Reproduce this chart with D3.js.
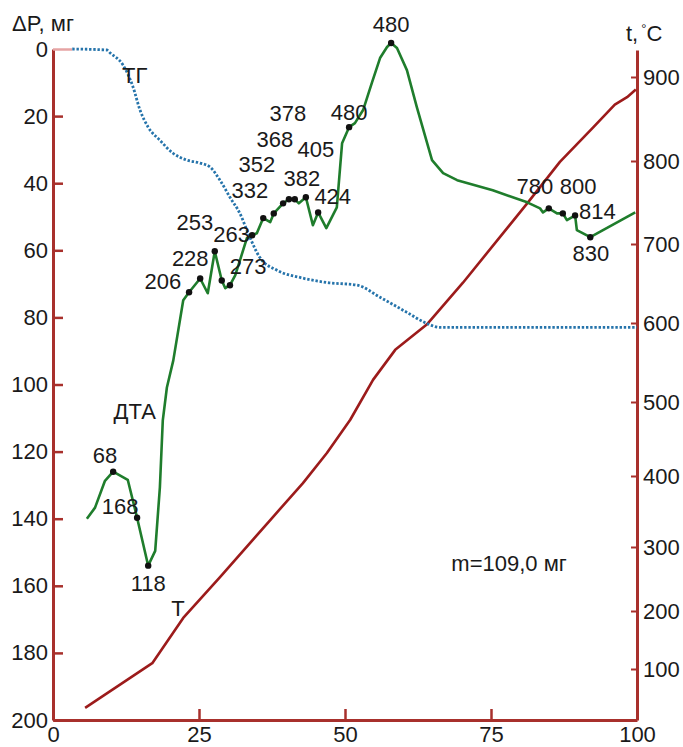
<!DOCTYPE html>
<html><head><meta charset="utf-8">
<script src="https://cdn.jsdelivr.net/npm/d3@7"></script>
<style>
body{margin:0;background:#fff}
svg{display:block}
text{font-family:"Liberation Sans",Arial,sans-serif;fill:#1a1a1a}
</style>
</head><body>
<svg id="c" width="683" height="747"></svg>
<script>
// ---------- DATA ----------
const xTicks = [0, 25, 50, 75, 100];
const pTicks = [0, 20, 40, 60, 80, 100, 120, 140, 160, 180, 200];
const tTicks = [100, 200, 300, 400, 500, 600, 700, 800, 900];

// TG (mass loss, мг)
const tgX = [3.3, 9.2, 9.8, 12.0, 13.7, 14.9, 16.3, 18.3, 20.5, 22.9, 25.2, 26.9, 28.6, 30.3, 32.0, 33.7, 35.4, 38.4, 42.3, 46.9, 52.1, 56.0, 60.6, 64.0, 66.3, 100];
const tgP = [0, 0.3, 1.2, 4.8, 11.3, 18.2, 23.3, 27.2, 31.0, 33.1, 34.0, 35.2, 39.1, 44.2, 49.0, 56.1, 62.1, 66.0, 68.1, 69.6, 70.4, 74.0, 78.5, 81.8, 83.0, 83.0];

// DTA curve
const dtaX = [5.8, 7.2, 8.9, 10.3, 12.8, 14.4, 16.3, 17.5, 18.3, 18.8, 19.5, 20.6, 22.3, 23.3, 25.2, 26.5, 27.7, 28.9, 29.5, 30.3, 31.2, 33.2, 34.1, 34.9, 36.0, 37.2, 37.8, 39.4, 40.4, 41.4, 42.1, 43.3, 44.5, 45.4, 46.8, 48.6, 49.5, 50.7, 51.7, 53.1, 54.6, 56.0, 57.2, 57.9, 58.9, 60.6, 62.3, 64.9, 66.8, 69.2, 75.3, 81.2, 83.4, 83.9, 84.9, 86.3, 87.3, 88.0, 88.9, 89.4, 89.7, 92.0, 99.7];
const dtaP = [140.0, 136.7, 128.7, 126.0, 128.4, 139.7, 154.0, 149.6, 130.7, 110.7, 100.9, 92.8, 74.9, 72.5, 68.4, 72.8, 60.3, 69.0, 71.3, 70.4, 67.5, 56.4, 55.5, 54.9, 50.4, 51.6, 49.0, 46.0, 44.8, 44.8, 46.0, 44.2, 52.5, 48.7, 53.4, 47.2, 28.1, 23.3, 22.1, 18.2, 10.1, 2.7, -0.6, -1.8, -0.3, 6.3, 17.3, 33.1, 37.0, 39.1, 42.1, 45.7, 47.5, 48.7, 47.5, 49.0, 49.0, 51.0, 50.1, 49.6, 54.0, 56.1, 48.7];

// marked points on DTA
const dotX = [10.3, 14.4, 16.3, 23.3, 25.2, 27.7, 28.9, 30.3, 34.1, 36.0, 37.8, 39.4, 40.4, 41.4, 43.3, 45.4, 50.7, 57.9, 84.9, 87.3, 89.4, 92.0];
const dotP = [126.0, 139.7, 154.0, 72.5, 68.4, 60.3, 69.0, 70.4, 55.5, 50.4, 49.0, 46.0, 44.8, 44.8, 44.2, 48.7, 23.3, -1.8, 47.5, 49.0, 49.6, 56.1];

// temperature labels (anchor in data units)
const labelText = ["68", "168", "118", "206", "228", "253", "263", "273", "332", "352", "368", "378", "405", "382", "424", "480", "480", "780", "800", "814", "830"];
const labelX = [8.9, 11.5, 16.3, 18.8, 23.5, 24.3, 30.6, 33.4, 33.7, 34.9, 38.0, 40.2, 45.0, 42.6, 47.9, 50.7, 57.9, 82.5, 89.9, 93.2, 92.1];
const labelP = [121.2, 136.4, 159.4, 69.3, 62.4, 51.6, 55.2, 64.8, 42.1, 34.3, 26.9, 19.1, 30.1, 38.5, 43.9, 18.8, -7.2, 40.9, 40.9, 48.4, 60.9];

// Temperature curve T (°C)
const tX = [5.5, 17.0, 22.3, 28.6, 37.2, 42.8, 46.9, 50.9, 54.8, 58.6, 64.0, 70.2, 81.2, 86.8, 92.5, 96.2, 98.3, 99.8];
const tC = [33, 110, 188, 253, 338, 390, 431, 476, 528, 566, 598, 651, 749, 799, 840, 867, 876, 885];

// ---------- LAYOUT ----------
const X0 = 53, X1 = 637, Y0 = 49, Y1 = 720;
const AX = "#a8302c", GREEN = "#1f7d2c", RED = "#9c1b1b", TGC = "#2674ab";
const FS = 22;

const svg = d3.select("#c");
const x = d3.scaleLinear().domain([0, 100]).range([X0, X1]);
const yP = d3.scaleLinear().domain([0, 200]).range([Y0, Y1]);
// right temperature axis of the original figure is not uniform: polylinear scale through the tick marks
const yT = d3.scaleLinear()
  .domain([12, ...tTicks, 932])
  .range([720, 669, 611, 547, 476, 402, 323, 244, 161, 77, 50]);

function styleAxis(g) {
  g.select(".domain").attr("stroke", AX).attr("stroke-width", 3);
  g.selectAll(".tick line").attr("stroke", AX).attr("stroke-width", 2.5);
  g.selectAll(".tick text").attr("font-size", FS).attr("fill", "#1a1a1a")
    .attr("font-family", '"Liberation Sans", Arial, sans-serif');
}

// left axis
const gl = svg.append("g").attr("transform", `translate(${X0},0)`)
  .call(d3.axisLeft(yP).tickValues(pTicks).tickSize(-10).tickSizeOuter(0).tickPadding(5));
styleAxis(gl);
gl.selectAll(".tick").filter(d => d === 0).select("line").attr("stroke", "#e6a4a4").attr("x2", 19);
// bottom axis
const gb = svg.append("g").attr("transform", `translate(0,${Y1})`)
  .call(d3.axisBottom(x).tickValues(xTicks).tickSize(-11).tickSizeOuter(0).tickPadding(6));
styleAxis(gb);
// right axis
const gr = svg.append("g").attr("transform", `translate(${X1},0)`)
  .call(d3.axisRight(yT).tickValues(tTicks).tickSize(-6).tickSizeOuter(0).tickPadding(6));
styleAxis(gr);
gr.selectAll(".tick line").attr("stroke-width", 2);

// T curve
svg.append("path")
  .datum(d3.zip(tX, tC))
  .attr("fill", "none").attr("stroke", RED).attr("stroke-width", 2.6).attr("stroke-linejoin", "round")
  .attr("d", d3.line().x(d => x(d[0])).y(d => yT(d[1])));

// TG curve (dotted)
svg.append("path")
  .datum(d3.zip(tgX, tgP))
  .attr("fill", "none").attr("stroke", TGC).attr("stroke-width", 2.8)
  .attr("stroke-dasharray", "2.4,1.8")
  .attr("d", d3.line().curve(d3.curveMonotoneX).x(d => x(d[0])).y(d => yP(d[1])));

// DTA curve
svg.append("path")
  .datum(d3.zip(dtaX, dtaP))
  .attr("fill", "none").attr("stroke", GREEN).attr("stroke-width", 2.6).attr("stroke-linejoin", "round")
  .attr("d", d3.line().x(d => x(d[0])).y(d => yP(d[1])));

// dots
svg.append("g").selectAll("circle")
  .data(d3.zip(dotX, dotP)).join("circle")
  .attr("cx", d => x(d[0])).attr("cy", d => yP(d[1])).attr("r", 3.2).attr("fill", "#111");

// labels
svg.append("g").selectAll("text")
  .data(d3.zip(labelText, labelX, labelP)).join("text")
  .attr("x", d => x(d[1])).attr("y", d => yP(d[2]))
  .attr("text-anchor", "middle").attr("dominant-baseline", "central")
  .attr("font-size", FS).text(d => d[0]);

// curve names & notes
const notes = [
  {t: "ТГ", x: 14.0, p: 8.0},
  {t: "ДТА", x: 14.0, p: 108.0},
  {t: "Т", x: 21.4, p: 166.8},
  {t: "m=109,0 мг", x: 78.1, p: 153.5}
];
svg.append("g").selectAll("text").data(notes).join("text")
  .attr("x", d => x(d.x)).attr("y", d => yP(d.p))
  .attr("text-anchor", "middle").attr("dominant-baseline", "central")
  .attr("font-size", FS).text(d => d.t);

// axis titles
svg.append("text").attr("x", 12).attr("y", 31).attr("font-size", FS).text("ΔP, мг");
const tt = svg.append("text").attr("x", 626).attr("y", 41).attr("font-size", FS);
tt.append("tspan").text("t,");
tt.append("tspan").attr("dx", 3).attr("dy", -8).attr("font-size", 13).text("°");
tt.append("tspan").attr("dy", 8).text("C");
</script>
</body></html>
